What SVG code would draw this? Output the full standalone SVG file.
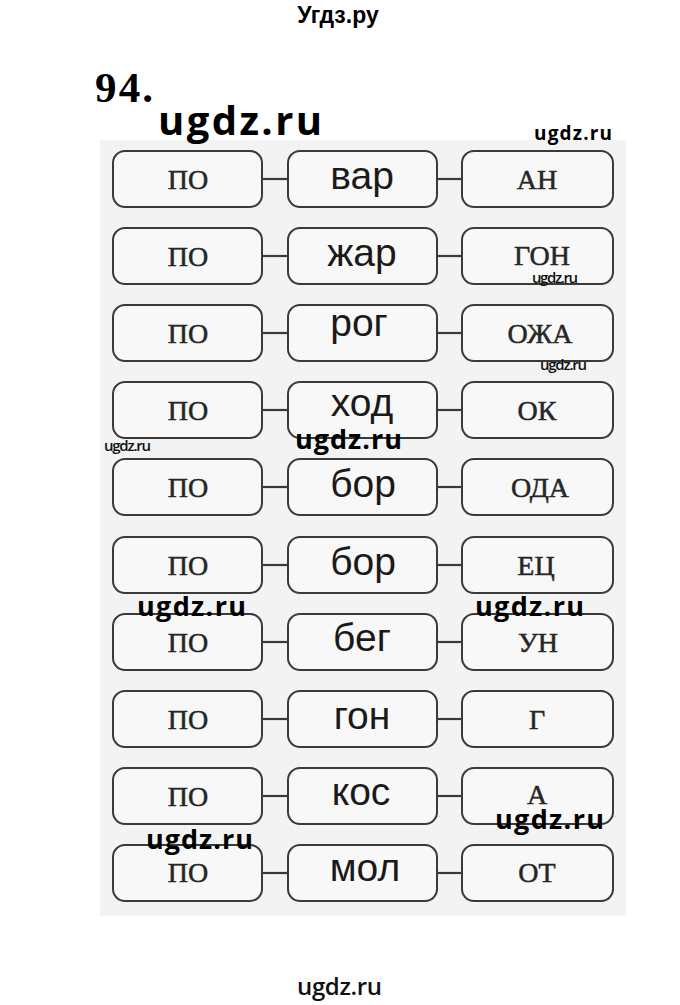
<svg xmlns="http://www.w3.org/2000/svg" width="680" height="1005" viewBox="0 0 680 1005">
<style>
.box{fill:#f8f8f8;stroke:#3a3a3a;stroke-width:2}
.con{stroke:#3a3a3a;stroke-width:2.2}
.po{font-family:"Liberation Serif",serif;font-size:28px;fill:#262626;stroke:#262626;stroke-width:0.5;text-anchor:middle}
.mid{font-family:"Liberation Sans",Arial,sans-serif;font-size:39px;fill:#1a1a1a;text-anchor:middle}
.wm{font-family:"Open Sans","Liberation Sans",sans-serif;font-weight:bold;fill:#000}
.wms{font-family:"Open Sans","Liberation Sans",sans-serif;font-weight:600;fill:#111}
</style>
<rect x="0" y="0" width="680" height="1005" fill="#ffffff"/>
<rect x="100" y="140" width="526" height="776" fill="#f3f3f3"/>
<text x="338" y="23" font-family="Liberation Sans,Arial,sans-serif" font-weight="bold" font-size="23" text-anchor="middle" fill="#000">Угдз.ру</text>
<text x="95" y="102" font-family="Liberation Serif,serif" font-weight="bold" font-size="43" textLength="58" fill="#000">94.</text>
<g id="connectors">
<line class="con" x1="262" y1="179" x2="288" y2="179"/><line class="con" x1="437" y1="179" x2="462" y2="179"/>
<line class="con" x1="262" y1="256" x2="288" y2="256"/><line class="con" x1="437" y1="256" x2="462" y2="256"/>
<line class="con" x1="262" y1="333" x2="288" y2="333"/><line class="con" x1="437" y1="333" x2="462" y2="333"/>
<line class="con" x1="262" y1="410" x2="288" y2="410"/><line class="con" x1="437" y1="410" x2="462" y2="410"/>
<line class="con" x1="262" y1="487" x2="288" y2="487"/><line class="con" x1="437" y1="487" x2="462" y2="487"/>
<line class="con" x1="262" y1="565" x2="288" y2="565"/><line class="con" x1="437" y1="565" x2="462" y2="565"/>
<line class="con" x1="262" y1="642" x2="288" y2="642"/><line class="con" x1="437" y1="642" x2="462" y2="642"/>
<line class="con" x1="262" y1="719" x2="288" y2="719"/><line class="con" x1="437" y1="719" x2="462" y2="719"/>
<line class="con" x1="262" y1="796" x2="288" y2="796"/><line class="con" x1="437" y1="796" x2="462" y2="796"/>
<line class="con" x1="262" y1="873" x2="288" y2="873"/><line class="con" x1="437" y1="873" x2="462" y2="873"/>
</g>
<g id="row1">
<g id="r1a"><rect class="box" x="113" y="151" width="149" height="56" rx="12"/><text class="po" x="188" y="189">ПО</text></g>
<g id="r1b"><rect class="box" x="288" y="151" width="149" height="56" rx="12"/><text class="mid" x="362" y="189">вар</text></g>
<g id="r1c"><rect class="box" x="462" y="151" width="151" height="56" rx="12"/><text class="po" x="537" y="189">АН</text></g>
</g>
<g id="row2">
<g id="r2a"><rect class="box" x="113" y="228" width="149" height="56" rx="12"/><text class="po" x="188" y="266">ПО</text></g>
<g id="r2b"><rect class="box" x="288" y="228" width="149" height="56" rx="12"/><text class="mid" x="362" y="266">жар</text></g>
<g id="r2c"><rect class="box" x="462" y="228" width="151" height="56" rx="12"/><text class="po" x="542" y="265">ГОН</text></g>
</g>
<g id="row3">
<g id="r3a"><rect class="box" x="113" y="305" width="149" height="56" rx="12"/><text class="po" x="188" y="343">ПО</text></g>
<g id="r3b"><rect class="box" x="288" y="305" width="149" height="56" rx="12"/><text class="mid" x="359" y="336">рог</text></g>
<g id="r3c"><rect class="box" x="462" y="305" width="151" height="56" rx="12"/><text class="po" x="540" y="343">ОЖА</text></g>
</g>
<g id="row4">
<g id="r4a"><rect class="box" x="113" y="382" width="149" height="56" rx="12"/><text class="po" x="188" y="420">ПО</text></g>
<g id="r4b"><rect class="box" x="288" y="382" width="149" height="56" rx="12"/><text class="mid" x="362" y="416">ход</text></g>
<g id="r4c"><rect class="box" x="462" y="382" width="151" height="56" rx="12"/><text class="po" x="537" y="420">ОК</text></g>
</g>
<g id="row5">
<g id="r5a"><rect class="box" x="113" y="459" width="149" height="56" rx="12"/><text class="po" x="188" y="497">ПО</text></g>
<g id="r5b"><rect class="box" x="288" y="459" width="149" height="56" rx="12"/><text class="mid" x="363" y="497">бор</text></g>
<g id="r5c"><rect class="box" x="462" y="459" width="151" height="56" rx="12"/><text class="po" x="540" y="497">ОДА</text></g>
</g>
<g id="row6">
<g id="r6a"><rect class="box" x="113" y="537" width="149" height="56" rx="12"/><text class="po" x="188" y="575">ПО</text></g>
<g id="r6b"><rect class="box" x="288" y="537" width="149" height="56" rx="12"/><text class="mid" x="363" y="575">бор</text></g>
<g id="r6c"><rect class="box" x="462" y="537" width="151" height="56" rx="12"/><text class="po" x="536" y="575">ЕЦ</text></g>
</g>
<g id="row7">
<g id="r7a"><rect class="box" x="113" y="614" width="149" height="56" rx="12"/><text class="po" x="188" y="652">ПО</text></g>
<g id="r7b"><rect class="box" x="288" y="614" width="149" height="56" rx="12"/><text class="mid" x="362" y="651">бег</text></g>
<g id="r7c"><rect class="box" x="462" y="614" width="151" height="56" rx="12"/><text class="po" x="538" y="652">УН</text></g>
</g>
<g id="row8">
<g id="r8a"><rect class="box" x="113" y="691" width="149" height="56" rx="12"/><text class="po" x="188" y="729">ПО</text></g>
<g id="r8b"><rect class="box" x="288" y="691" width="149" height="56" rx="12"/><text class="mid" x="362" y="729">гон</text></g>
<g id="r8c"><rect class="box" x="462" y="691" width="151" height="56" rx="12"/><text class="po" x="537" y="729">Г</text></g>
</g>
<g id="row9">
<g id="r9a"><rect class="box" x="113" y="768" width="149" height="56" rx="12"/><text class="po" x="188" y="806">ПО</text></g>
<g id="r9b"><rect class="box" x="288" y="768" width="149" height="56" rx="12"/><text class="mid" x="361" y="805">кос</text></g>
<g id="r9c"><rect class="box" x="462" y="768" width="151" height="56" rx="12"/><text class="po" x="537" y="804">А</text></g>
</g>
<g id="row10">
<g id="r10a"><rect class="box" x="113" y="845" width="149" height="56" rx="12"/><text class="po" x="188" y="882">ПО</text></g>
<g id="r10b"><rect class="box" x="288" y="845" width="149" height="56" rx="12"/><text class="mid" x="365" y="881">мол</text></g>
<g id="r10c"><rect class="box" x="462" y="845" width="151" height="56" rx="12"/><text class="po" x="537" y="882">ОТ</text></g>
</g>
<g id="watermarks">
<text class="wm" x="158" y="135" font-size="40" textLength="164">ugdz.ru</text>
<text class="wm" x="534" y="140" font-size="19" textLength="78">ugdz.ru</text>
<text class="wms" x="532" y="283" font-size="15" textLength="46">ugdz.ru</text>
<text class="wms" x="540" y="370" font-size="15" textLength="47">ugdz.ru</text>
<text class="wms" x="104" y="451" font-size="15" font-weight="normal" textLength="47">ugdz.ru</text>
<text class="wm" x="295" y="449" font-size="27" textLength="107">ugdz.ru</text>
<text class="wm" x="137" y="616" font-size="27" textLength="109">ugdz.ru</text>
<text class="wm" x="475" y="616" font-size="27" textLength="109">ugdz.ru</text>
<text class="wm" x="146" y="849" font-size="27" textLength="107">ugdz.ru</text>
<text class="wm" x="495" y="829" font-size="27" textLength="109">ugdz.ru</text>
<text class="wms" x="297" y="995" font-size="24" textLength="85">ugdz.ru</text>
</g>
</svg>
